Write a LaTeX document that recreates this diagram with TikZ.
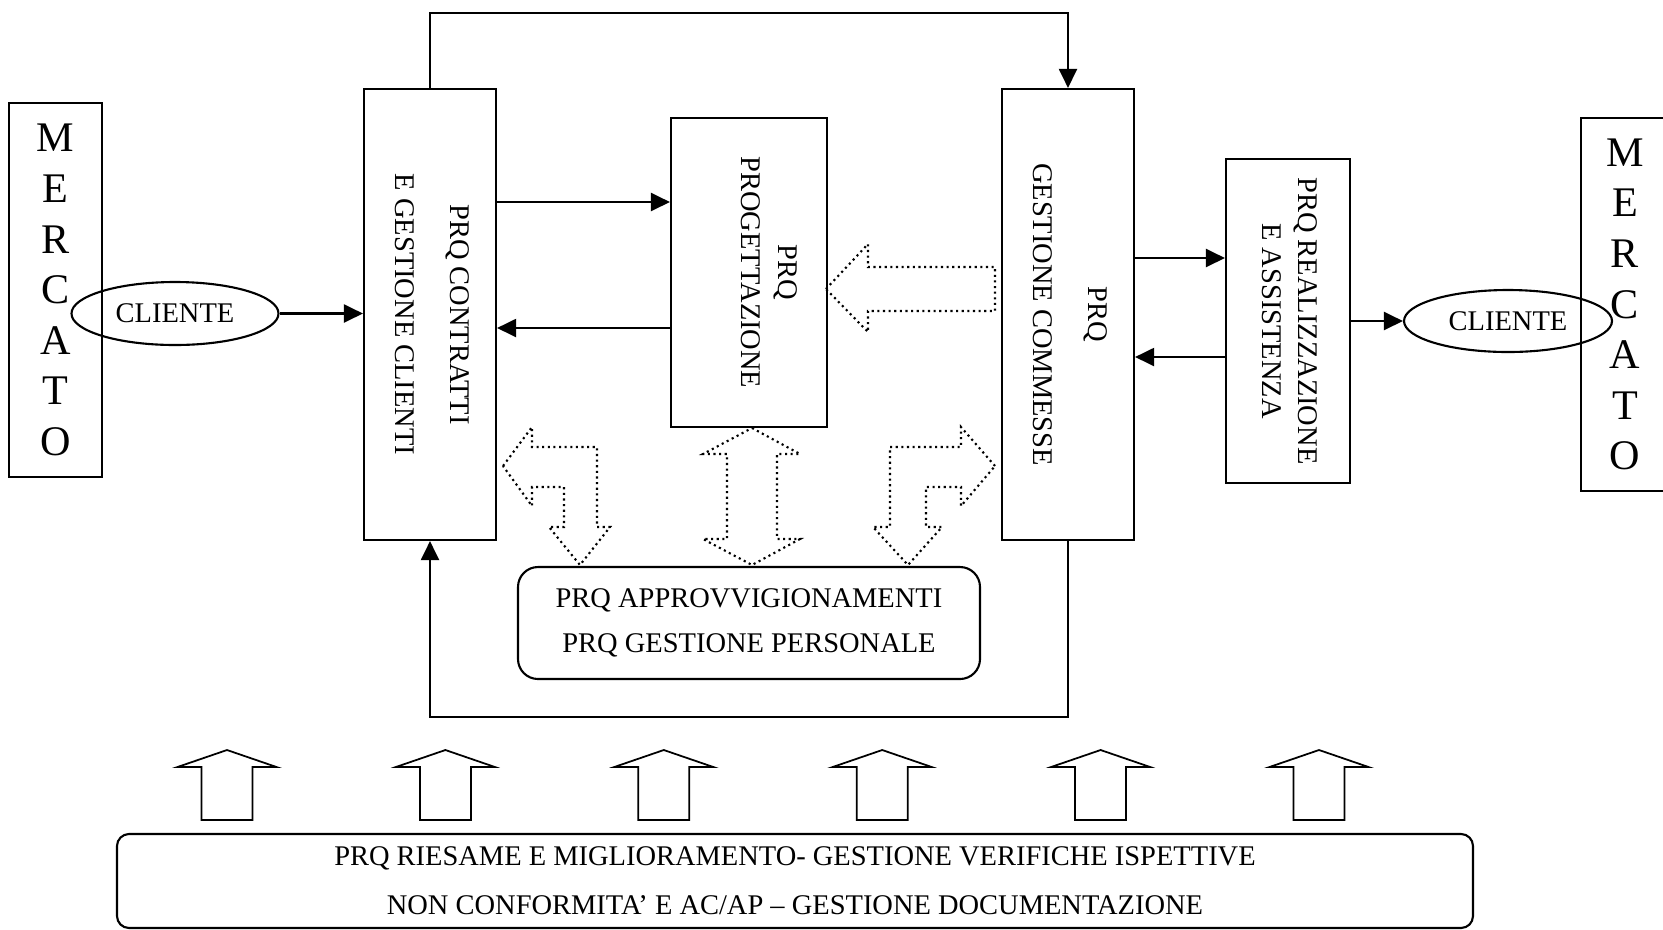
\documentclass[tikz,border=0pt]{standalone}
\usepackage{fontspec}
\setmainfont{Liberation Serif}
\usepackage{graphicx}
\usetikzlibrary{arrows.meta,shapes.geometric,calc}
\newcommand{\prqsize}{\fontsize{8.1}{10.4}\selectfont}
\newcommand{\vtext}[1]{\rotatebox{-90}{\begin{tabular}{@{}c@{}}#1\end{tabular}}}
\tikzset{
  prq/.style={draw,line width=0.6pt,inner sep=0pt,font=\prqsize},
  mkt/.style={prq,align=center,font=\fontsize{12}{14.4}\selectfont},
  cli/.style={ellipse,draw,line width=0.6pt,inner sep=0pt,font=\prqsize},
  rbox/.style={prq,rounded corners=2mm,align=center},
  arr/.style={-{Triangle[length=1.9mm,width=1.8mm]},line width=0.6pt},
  dots/.style={densely dotted,line width=0.6pt},
  hollow/.style={draw,line width=0.5pt}
}

\begin{document}
\begin{tikzpicture}
    \clip (0,0) rectangle (16.63,-9.29);
    % mercato e clienti
    \node[mkt,minimum width=0.93cm,minimum height=3.74cm] (merc1) at (0.555,-2.90) {M\\E\\R\\C\\A\\T\\O};
    \node[mkt,minimum width=0.88cm,minimum height=3.73cm] (merc2) at (16.25,-3.045) {M\\E\\R\\C\\A\\T\\O};
    \node[cli,minimum width=2.07cm,minimum height=0.63cm] (cl1) at (1.75,-3.135) {CLIENTE};
    \node[cli,minimum width=2.08cm,minimum height=0.62cm] (cl2) at (15.08,-3.21) {CLIENTE};
    % processi
    \node[prq,minimum width=1.32cm,minimum height=4.51cm] (contr) at (4.30,-3.145)
        {\vtext{PRQ CONTRATTI\\[5.2pt] E GESTIONE CLIENTI}};
    \node[prq,minimum width=1.56cm,minimum height=3.09cm] (prog) at (7.49,-2.725)
        {\vtext{PRQ\\ PROGETTAZIONE\\ ~}};
    \node[prq,minimum width=1.32cm,minimum height=4.51cm] (comm) at (10.68,-3.145)
        {\vtext{PRQ\\[5.2pt] GESTIONE COMMESSE}};
    \node[prq,minimum width=1.24cm,minimum height=3.24cm] (real) at (12.88,-3.21)
        {\vtext{PRQ REALIZZAZIONE\\ E ASSISTENZA}};
    \node[rbox,minimum width=4.62cm,minimum height=1.12cm] (appr) at (7.49,-6.23)
        {PRQ APPROVVIGIONAMENTI\\[2.4pt] PRQ GESTIONE PERSONALE};
    \node[rbox,rounded corners=1.2mm,minimum width=13.56cm,minimum height=0.94cm] (ries) at (7.95,-8.81)
        {PRQ RIESAME E MIGLIORAMENTO- GESTIONE VERIFICHE ISPETTIVE\\[3.5pt]
         NON CONFORMITA’ E AC/AP – GESTIONE DOCUMENTAZIONE};
    % collegamenti
    \draw[arr] (cl1.east) -- (cl1.east -| contr.west);
    \draw[arr] ([yshift=7.05mm]prog.west -| contr.east) -- ([yshift=7.05mm]prog.west);
    \draw[arr] ([yshift=-5.55mm]prog.west) -- ([yshift=-5.55mm]prog.west -| contr.east);
    \draw[arr] (contr.north) -- ++(0,0.75) -| (comm.north);
    \draw[arr] (comm.south) -- ++(0,-1.76) -| (contr.south);
    \draw[arr] ([yshift=6.3mm]real.west -| comm.east) -- ([yshift=6.3mm]real.west);
    \draw[arr] ([yshift=-3.6mm]real.west) -- ([yshift=-3.6mm]real.west -| comm.east);
    \draw[arr] (real.east) -- (cl2.west);
    % frecce tratteggiate
    \draw[dots] (5.03,-4.66) -- (5.32,-4.27) -- (5.32,-4.47) -- (5.97,-4.47) -- (5.97,-5.27) -- (6.10,-5.27)
        -- (5.80,-5.65) -- (5.49,-5.27) -- (5.64,-5.27) -- (5.64,-4.87) -- (5.32,-4.87) -- (5.32,-5.06) -- cycle;
    \draw[dots] (9.95,-4.66) -- (9.61,-4.27) -- (9.61,-4.47) -- (8.90,-4.47) -- (8.90,-5.27) -- (8.73,-5.27)
        -- (9.08,-5.65) -- (9.42,-5.27) -- (9.26,-5.27) -- (9.26,-4.87) -- (9.61,-4.87) -- (9.61,-5.06) -- cycle;
    \draw[dots] (7.52,-4.28) -- (8.00,-4.54) -- (7.77,-4.54) -- (7.77,-5.39) -- (8.00,-5.39) -- (7.52,-5.65)
        -- (7.03,-5.39) -- (7.27,-5.39) -- (7.27,-4.54) -- (7.03,-4.54) -- cycle;
    \draw[dots] (8.26,-2.89) -- (8.68,-2.44) -- (8.68,-2.67) -- (9.95,-2.67) -- (9.95,-3.11) -- (8.68,-3.11)
        -- (8.68,-3.32) -- cycle;
    % frecce di miglioramento
    \foreach \x in {2.27,4.454,6.638,8.822,11.006,13.19}
      \draw[hollow] (\x,-8.20) -- ++(-0.255,0) -- ++(0,0.53) -- ++(-0.24,0) -- (\x,-7.50)
          -- ++(0.495,-0.17) -- ++(-0.24,0) -- ++(0,-0.53) -- cycle;
\end{tikzpicture}
\end{document}
